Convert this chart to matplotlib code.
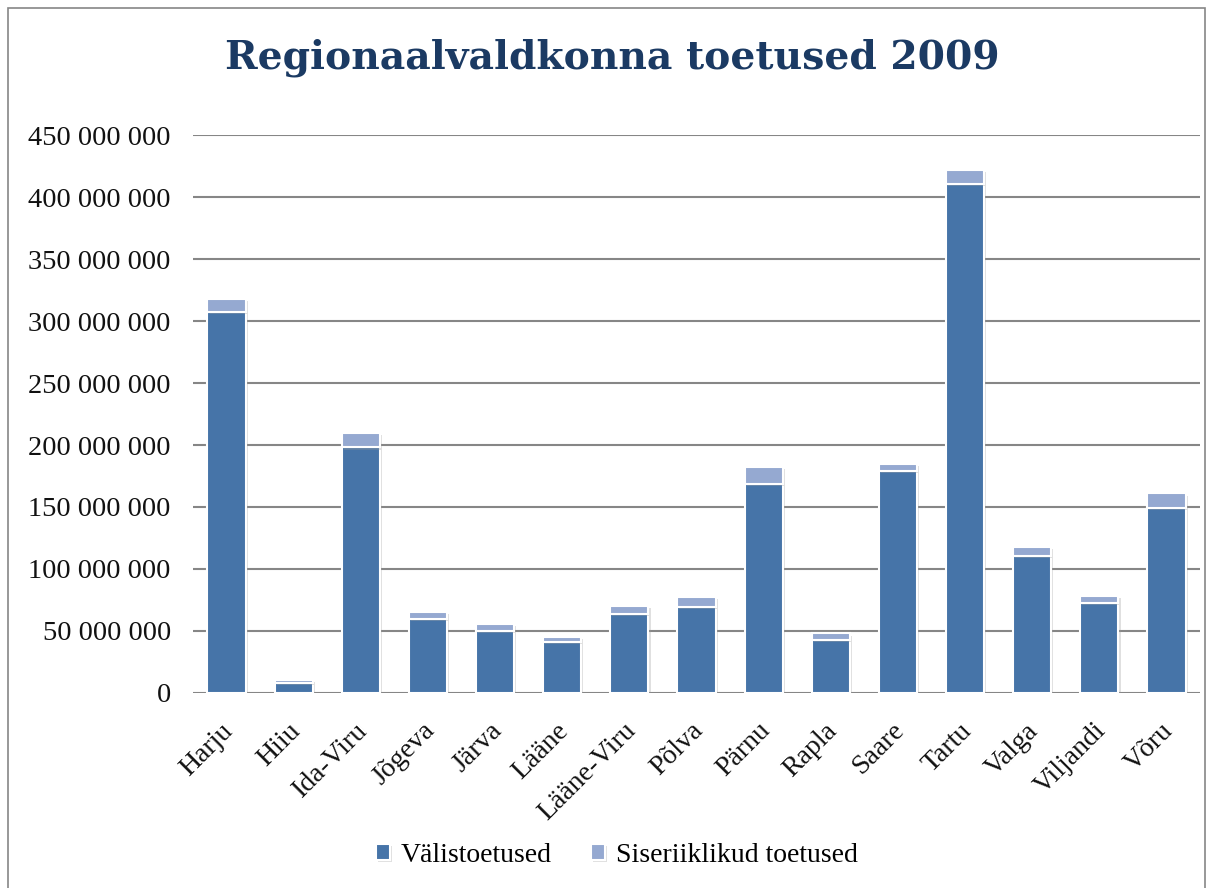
import matplotlib
matplotlib.use("Agg")
import matplotlib.pyplot as plt
from matplotlib.patches import Rectangle
import matplotlib.patheffects as pe
import matplotlib.transforms as mtransforms
import numpy as np

categories = ["Harju", "Hiiu", "Ida-Viru", "Jõgeva", "Järva", "Lääne", "Lääne-Viru",
              "Põlva", "Pärnu", "Rapla", "Saare", "Tartu", "Valga", "Viljandi", "Võru"]
valis = [307e6, 8e6, 198e6, 60e6, 50e6, 41.4e6, 63.9e6, 69.4e6, 168.9e6, 43e6,
         179.4e6, 410.6e6, 110.6e6, 72.5e6, 148.9e6]
siseriik = [11e6, 2.5e6, 11.7e6, 5.5e6, 5.8e6, 3.9e6, 6e6, 8.3e6, 13.3e6, 5e6,
            5e6, 11.3e6, 7e6, 5.8e6, 12e6]
yticks = [0, 50e6, 100e6, 150e6, 200e6, 250e6, 300e6, 350e6, 400e6, 450e6]
ytick_labels = ["0", "50 000 000", "100 000 000", "150 000 000", "200 000 000",
                "250 000 000", "300 000 000", "350 000 000", "400 000 000", "450 000 000"]
title = "Regionaalvaldkonna toetused 2009"
series_names = ["Välistoetused", "Siseriiklikud toetused"]

W, H = 1214, 888
fig = plt.figure(figsize=(W / 100, H / 100), dpi=100)
font = "Liberation Serif"

# outer border
fig.patches.append(Rectangle((8 / W, -0.01), (1205 - 8) / W, (H - 8) / H + 0.01,
                             transform=fig.transFigure, fill=False,
                             edgecolor="#868686", linewidth=1.2))

ax = fig.add_axes([193 / W, 1 - 693 / H, (1200 - 193) / W, (693 - 135) / H])
x = np.arange(len(categories))
blue = "#4674A8"
light = "#95A9D1"
shadow = [pe.SimplePatchShadow(offset=(1.5, -1.5), shadow_rgbFace="#999999", alpha=0.3), pe.Normal()]
b1 = ax.bar(x, valis, width=0.57, color=blue, edgecolor="white", linewidth=1.5,
            label=series_names[0], zorder=3, path_effects=shadow)
b2 = ax.bar(x, siseriik, bottom=valis, width=0.57, color=light, edgecolor="white",
            linewidth=1.5, label=series_names[1], zorder=3, path_effects=shadow)

ax.set_xlim(-0.5, len(categories) - 0.5)
ax.set_ylim(0, 450e6)
ax.set_yticks(yticks)
ax.set_yticklabels(ytick_labels, fontsize=20.5, family=font, color="#111111")
ax.yaxis.grid(True, color="#868686", linewidth=1.5, zorder=0)
ax.set_axisbelow(True)
ax.tick_params(axis="y", length=0, pad=16)
ax.tick_params(axis="x", length=0, pad=8)
ax.set_xticks(x)
ax.set_xticklabels(categories, rotation=45, ha="right", rotation_mode="anchor",
                   fontsize=20, family=font, color="#111111")
offset = mtransforms.ScaledTranslation(-6 / 100, -14 / 100, fig.dpi_scale_trans)
for lab in ax.get_xticklabels():
    lab.set_transform(lab.get_transform() + offset)
for s in ax.spines.values():
    s.set_visible(False)

fig.text(612 / W, 1 - 58 / H, title, ha="center", va="center",
         fontsize=28.3, fontweight="bold", family="DejaVu Serif", color="#1B3A63")

leg = fig.legend(handles=[b1, b2], labels=series_names, loc="center",
                 bbox_to_anchor=(617 / W, 1 - 855 / H), ncol=2, frameon=False,
                 prop={"family": font, "size": 20}, handlelength=0.5, handleheight=0.5,
                 handletextpad=0.4, columnspacing=1.4)

fig.savefig("out.png", dpi=100)
